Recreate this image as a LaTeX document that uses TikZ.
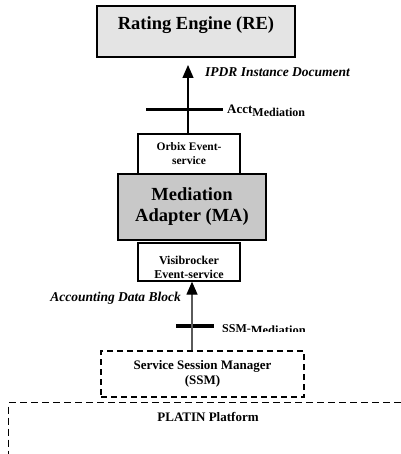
\documentclass[tikz,border=0pt]{standalone}
\usepackage{fontspec}
\setmainfont{Liberation Serif}
\usetikzlibrary{arrows.meta,positioning}
\definecolor{regray}{RGB}{228,228,228}
\definecolor{magray}{RGB}{200,200,200}
\definecolor{linegray}{RGB}{90,90,90}

\begin{document}
\begin{tikzpicture}[x=1pt, y=-1pt,
    box/.style={draw, line width=1.3pt, inner sep=0pt, align=center},
    dashbox/.style={draw, line width=1.5pt, dash pattern=on 6pt off 4pt, inner sep=0pt, align=center},
    bar/.style={fill=black, inner sep=0pt, minimum height=3pt},
    flow/.style={line width=1.3pt, -{Triangle[width=11pt,length=13pt,color=black]}},
    note/.style={font=\bfseries\itshape\fontsize{13.5}{16}\selectfont, inner sep=0pt}]
    % 0. Page size
    \useasboundingbox (0,0) rectangle (400,454);

    % 1. Boxes
    \node[box, fill=regray, minimum width=198pt, text height=24pt, text depth=27pt,
          anchor=base, font=\bfseries\fontsize{18.5}{22}\selectfont] (re) at (196,30) {Rating Engine (RE)};
    \node[box, minimum width=102pt, minimum height=40pt,
          font=\bfseries\fontsize{11.5}{14}\selectfont] (orbix) at (189,154) {Orbix Event-\\service};
    \node[box, fill=magray, minimum width=148pt, minimum height=66pt,
          font=\bfseries\fontsize{18.5}{21}\selectfont] (ma) at (192,207) {Mediation\\Adapter (MA)};
    \node[box, minimum width=102pt, minimum height=38pt] (visi) at (189,262) {};
    \begin{scope}
        \clip (visi.north west) rectangle (visi.south east);
        \node[align=center, inner sep=0pt, font=\bfseries\fontsize{12}{14}\selectfont] (visitxt) at (189,267) {Visibrocker\\Event-service};
    \end{scope}
    \node[dashbox, minimum width=203pt, minimum height=46pt,
          font=\bfseries\fontsize{13}{15}\selectfont] (ssm) at (202.5,374) {Service Session Manager\\(SSM)};
    % PLATIN runs off the page at the right and bottom
    \node[dashbox, line width=1.3pt, dash pattern=on 7pt off 4pt, minimum width=420pt, minimum height=80pt,
          anchor=north west] (platin) at (8,402) {};
    \node[anchor=base, font=\bfseries\fontsize{13}{15}\selectfont] (platinlbl) at (208,421.5) {PLATIN Platform};

    % 2. Upper flow: MA -> RE
    \coordinate (retip) at (188,65);
    \node[bar, minimum width=77pt] (acctbar) at (184.5,110) {};
    \draw[flow] (orbix.north -| retip) -- (retip);
    \node[note, anchor=base west] (ipdr) at (205,77) {IPDR Instance Document};
    \node[anchor=base west, inner sep=0pt, font=\bfseries\fontsize{13}{15}\selectfont] (acct) at (227,113.5)
        {Acct\raisebox{-3.5pt}{\fontsize{12}{14}\selectfont Mediation}};

    % 3. Lower flow: SSM -> MA
    \coordinate (adbx) at (192,0);
    \node[bar, minimum width=38pt, minimum height=4.5pt] (ssmbar) at (195,326) {};
    \draw[flow, draw=linegray] (ssm.north -| adbx) -- (visi.south -| adbx);
    \node[note, anchor=base east] (adb) at (181,301.5) {Accounting Data Block};
    \begin{scope}
        \clip (210,300) rectangle (330,331);
        \node[anchor=base west, inner sep=0pt, font=\bfseries\fontsize{12}{14}\selectfont] (ssmlbl) at (222,332.5)
            {SSM-\raisebox{-1.5pt}{\fontsize{12.5}{14}\selectfont Mediation}};
    \end{scope}
\end{tikzpicture}
\end{document}
